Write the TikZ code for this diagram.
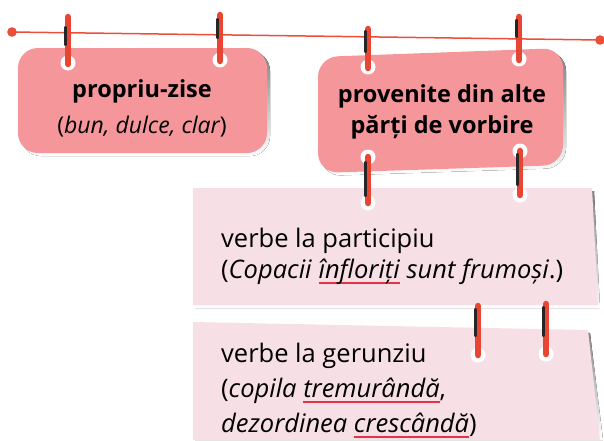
\documentclass[tikz,border=0pt]{standalone}
\usepackage{fontspec}
\setmainfont{Open Sans}
\usetikzlibrary{calc}
\definecolor{linered}{RGB}{236,78,58}
\definecolor{ringred}{RGB}{232,70,50}
\definecolor{ulred}{RGB}{228,50,70}
\definecolor{salmon}{RGB}{245,150,155}
\definecolor{paper}{RGB}{247,224,229}
\definecolor{shade}{RGB}{196,184,186}
\tikzset{
  ringline/.style={line width=6.5pt, ringred, line cap=round},
  ringdark/.style={line width=2.2pt, black!85, line cap=round},
  boldtxt/.style={font=\fontsize{23.5}{31}\selectfont\bfseries, anchor=base, inner sep=0pt, text=black},
  itxt/.style={font=\fontsize{23}{31}\selectfont\itshape, anchor=base, inner sep=0pt},
  bigtxt/.style={font=\fontsize{25.5}{32}\selectfont, anchor=base west, inner sep=0pt},
}
\newcommand{\ringdraw}[5]{%
  \draw[ringline] (#1,#2) -- (#1,#3);
  \draw[ringdark] (#1-2.6,#4) -- (#1-2.6,#5);
}
\newcommand{\holeat}[2]{\fill[white] (#1,#2) circle (7.5);}
\newsavebox{\ulbox}
\newcommand{\rul}[1]{\sbox{\ulbox}{#1}\rlap{\textcolor{ulred}{\rule[-5.5pt]{\wd\ulbox}{1.8pt}}}\usebox{\ulbox}}
\begin{document}
\begin{tikzpicture}[x=1pt,y=-1pt]
\useasboundingbox (0,0) rectangle (604,440);
% papers
\fill[shade] (195,191) -- (594,191) -- (600,308) -- (195,308) -- cycle;
\fill[paper] (193,188) -- (592,188) -- (598,305) -- (193,305) -- cycle;
\fill[shade] (195,325) -- (590,333) -- (603,440) -- (195,440) -- cycle;
\fill[paper] (193,322) -- (588,330) -- (600,440) -- (193,440) -- cycle;
% salmon boxes
\fill[shade,rounded corners=20] (21,51) rectangle (270,156);
\fill[salmon,rounded corners=20] (18,48) rectangle (267,153);
\fill[shade,rounded corners=20] (321,60) -- (566,51) -- (566,168) -- (321,176) -- cycle;
\fill[salmon,rounded corners=20] (318,57) -- (563,48) -- (563,165) -- (318,173) -- cycle;
% holes
\holeat{68}{63}
\holeat{220}{60}
\holeat{368}{67}
\holeat{519}{59}
\holeat{368}{157}
\holeat{520}{151}
\holeat{368}{203}
\holeat{520}{195}
\holeat{478}{355}
\holeat{546}{354}
% line
\draw[linered, line width=1.5pt] (12,32) coordinate (lstart) -- (600,40) coordinate (lend);
\fill[linered] (lstart) circle (4.8);
\fill[linered] (lend) circle (4.8);
% rings top
\ringdraw{68}{17}{64}{27}{45}
\ringdraw{220}{15}{61}{19}{38}
\ringdraw{368}{29}{68}{31}{52}
\ringdraw{519}{17}{60}{20}{37}
% rings box2 -> paper1
\ringdraw{368}{157}{203}{162}{196}
\ringdraw{520}{151}{195}{154}{185}
% rings paper1 -> paper2
\ringdraw{478}{306}{355}{309}{336}
\ringdraw{546}{304}{354}{307}{336}
% texts
\node[boldtxt] (t1) at (142,97) {propriu-zise};
\node[itxt] (t1b) at (142,133) {\upshape(\itshape bun, dulce, clar\upshape)};
\node[boldtxt] (t2) at (442,102) {provenite din alte};
\node[boldtxt] (t2b) at (442,133) {părți de vorbire};
\node[bigtxt] (p1) at (221,247) {verbe la participiu};
\node[bigtxt] (p1b) at (221,278) {(\textit{Copacii} \rul{\textit{înfloriți}} \textit{sunt frumoși}.)};
\node[bigtxt] (p2) at (221,362) {verbe la gerunziu};
\node[bigtxt] (p2b) at (221,397) {(\textit{copila} \rul{\textit{tremurândă}},};
\node[bigtxt] (p2c) at (221,432) {\textit{dezordinea} \rul{\textit{crescândă}})};
\end{tikzpicture}
\end{document}
